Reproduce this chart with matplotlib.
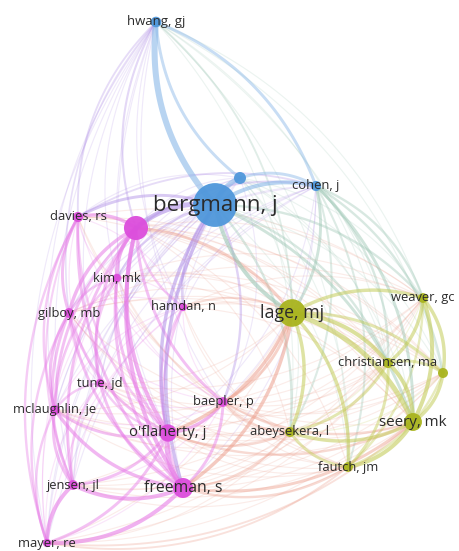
import matplotlib
matplotlib.use("Agg")
import matplotlib.pyplot as plt
import numpy as np
from matplotlib.colors import to_rgb

# ---- network data (layout coordinates as exported from the map) ----
labels = ["hwang, gj", "", "bergmann, j", "cohen, j",
          "davies, rs", "", "kim, mk", "gilboy, mb", "hamdan, n", "tune, jd",
          "mclaughlin, je", "o'flaherty, j", "baepler, p", "jensen, jl",
          "freeman, s", "mayer, re",
          "lage, mj", "weaver, gc", "christiansen, ma", "", "seery, mk",
          "abeysekera, l", "fautch, jm"]
node_x = [156, 240, 215, 316,
          78, 136, 117, 69, 183, 100, 55, 168, 223, 73, 183, 47,
          292, 423, 388, 443, 413, 290, 348]
node_y = [22, 178, 205, 186,
          217, 228, 278, 313, 307, 383, 410, 433, 402, 485, 488, 543,
          313, 298, 363, 373, 422, 432, 467]
cluster = [0, 0, 0, 0,
           1, 1, 1, 1, 1, 1, 1, 1, 1, 1, 1, 1,
           2, 2, 2, 2, 2, 2, 2]
weight = [28, 36, 480, 26,
          26, 145, 18, 24, 17, 17, 24, 75, 24, 24, 100, 17,
          190, 24, 25, 25, 80, 25, 24]

# strong co-citation links (i, j, strength); all other pairs weakly linked
links = [(0, 2, 5.0), (0, 1, 2.0), (0, 3, 2.0), (0, 4, 1.0), (0, 5, 1.2),
         (0, 7, 0.8), (0, 16, 1.0),
         (1, 2, 4.0), (1, 3, 2.0), (2, 3, 3.0), (2, 16, 3.0), (2, 5, 4.0),
         (2, 4, 2.0), (2, 11, 2.5), (2, 14, 2.5), (2, 20, 2.0), (2, 6, 1.5),
         (2, 8, 1.5), (2, 12, 1.5), (2, 17, 1.5), (2, 18, 1.5), (2, 21, 1.5),
         (3, 16, 2.0), (3, 20, 2.0), (3, 17, 1.5), (3, 18, 1.5), (3, 19, 1.5),
         (3, 22, 1.2), (3, 21, 1.2), (3, 5, 1.2), (3, 4, 1.0),
         (4, 5, 2.5), (4, 7, 2.0), (4, 10, 1.5), (4, 15, 1.5), (4, 14, 2.0),
         (4, 11, 1.5), (4, 13, 1.2),
         (5, 6, 3.0), (5, 7, 2.5), (5, 11, 3.0), (5, 14, 3.0), (5, 10, 2.0),
         (5, 13, 2.0), (5, 9, 2.0), (5, 8, 1.5), (5, 12, 2.0), (5, 16, 2.0),
         (6, 11, 2.0), (6, 14, 2.0), (6, 7, 1.5), (6, 9, 1.5), (6, 10, 1.5),
         (7, 10, 2.0), (7, 13, 2.0), (7, 14, 2.0), (7, 11, 2.0), (7, 15, 1.5),
         (8, 11, 1.5), (8, 14, 1.5), (8, 16, 1.2),
         (9, 11, 1.5), (9, 14, 2.0), (9, 13, 1.5), (9, 10, 1.5),
         (10, 13, 2.0), (10, 14, 2.5), (10, 11, 2.0), (10, 15, 1.5),
         (11, 14, 4.0), (11, 12, 2.5), (11, 13, 2.0), (11, 15, 2.0),
         (11, 16, 2.5), (11, 20, 1.5), (11, 21, 1.5),
         (12, 14, 2.0), (12, 16, 2.0), (12, 20, 1.5), (12, 21, 1.5),
         (13, 14, 3.0), (13, 15, 3.0), (14, 15, 3.0),
         (14, 16, 2.5), (14, 20, 2.0), (14, 22, 1.5), (14, 21, 1.5),
         (15, 20, 1.0), (15, 22, 1.0),
         (16, 20, 4.0), (16, 17, 2.5), (16, 18, 3.0), (16, 19, 2.0),
         (16, 21, 2.5), (16, 22, 2.5),
         (17, 18, 2.5), (17, 19, 2.5), (17, 20, 3.0), (17, 22, 1.5),
         (18, 20, 3.0), (18, 19, 2.0), (18, 22, 2.0), (18, 21, 2.0),
         (19, 20, 2.5), (19, 22, 1.5),
         (20, 21, 2.5), (20, 22, 3.0), (21, 22, 2.0)]
# links drawn bending the other way (as in the exported map)
flipped = [(0, 2), (0, 1), (2, 16)]

cluster_colors = ["#4f97db", "#dc4ddc", "#a9b41e"]
link_colors = {(0, 0): "#8ab8e8", (1, 1): "#e77de7", (2, 2): "#c4cc5a",
               (0, 1): "#b08fe6", (0, 2): "#9cc6b4", (1, 2): "#eca08e"}

fig = plt.figure(figsize=(4.6, 5.51), dpi=100)
ax = fig.add_axes([0, 0, 1, 1])
ax.set_xlim(0, 460)
ax.set_ylim(551, 0)
ax.axis("off")

pts = np.column_stack([node_x, node_y]).astype(float)
centre = pts.mean(axis=0)
n = len(labels)

strength = {}
for i in range(n):
    for j in range(i + 1, n):
        strength[(i, j)] = 0.3
for i, j, w in links:
    strength[(min(i, j), max(i, j))] = w


def curve(p, q, flip=False, bend=0.22):
    d = q - p
    m = (p + q) / 2
    perp = np.array([-d[1], d[0]])
    if np.dot(m - centre, perp) < 0:
        perp = -perp
    if flip:
        perp = -perp
    c = m + perp * bend
    t = np.linspace(0, 1, 50)[:, None]
    return (1 - t) ** 2 * p + 2 * (1 - t) * t * c + t ** 2 * q


for (i, j), w in sorted(strength.items(), key=lambda kv: kv[1]):
    key = tuple(sorted((cluster[i], cluster[j])))
    col = link_colors[key]
    path = curve(pts[i], pts[j], flip=(i, j) in flipped)
    ax.plot(path[:, 0], path[:, 1], color=col, lw=0.6 + 0.75 * w,
            alpha=min(0.6, 0.15 + 0.16 * w), solid_capstyle="round",
            zorder=1)

radius = np.sqrt(np.array(weight))
for i in range(n):
    r_pt = radius[i] * 72 / 100
    ax.scatter(node_x[i], node_y[i], s=(2 * r_pt) ** 2,
               color=cluster_colors[cluster[i]], alpha=0.95,
               edgecolors="none", zorder=3)

for i in range(n):
    if not labels[i]:
        continue
    fs = 9.3 + 0.4 * max(0, np.sqrt(weight[i]) - 5)
    ax.text(node_x[i], node_y[i], labels[i], ha="center", va="center",
            fontsize=fs, family=["Open Sans", "DejaVu Sans"],
            color="#2b2b2b", zorder=4)

fig.savefig("out.png", dpi=100)
